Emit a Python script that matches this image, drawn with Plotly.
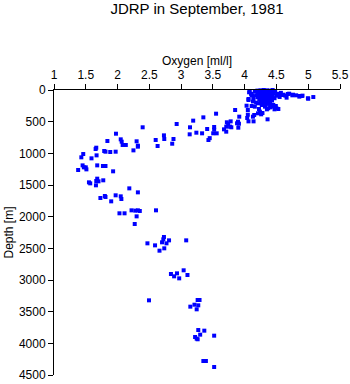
import plotly.graph_objects as go

# Oxygen [ml/l] values and matching depths [m]
oxygen = [
    # deep / intermediate
    2.395, 2.93, 1.975, 1.84, 2.05, 2.065, 2.13, 2.08, 2.30, 2.32, 2.32, 2.25, 2.60, 2.63,
    2.73, 2.735, 2.88, 2.86, 1.665, 1.655, 1.79, 1.81, 1.885, 1.97, 1.46, 1.43, 1.59, 1.67,
    1.45, 1.47, 1.50, 1.51, 1.38, 1.68, 1.77, 1.81, 1.93, 1.55, 1.57, 1.68, 1.665, 1.70,
    1.66, 1.775, 2.185, 2.32, 1.73, 1.80, 1.81, 1.97, 1.90, 2.05, 2.06, 2.22, 2.28, 2.32,
    2.35, 2.605, 2.03, 2.11, 2.30, 2.27,
    2.47, 2.59, 2.66, 2.73, 2.72, 2.70, 2.77, 2.81, 2.735, 3.08, 2.84, 2.89, 2.935, 2.97,
    3.04, 3.10, 2.495, 3.26, 3.29, 3.21, 3.27, 3.145, 3.245, 3.27, 3.365, 3.30, 3.52, 3.22,
    3.245, 3.26, 3.35, 3.39, 3.52,
    # upper transition
    3.14, 3.135, 3.24, 3.33, 3.35, 3.55, 3.19, 3.41, 3.45, 3.43, 3.52, 3.52, 3.505, 3.56,
    3.675, 3.71, 3.72, 3.78, 3.79, 3.895, 3.91, 3.90, 3.915, 3.85, 3.74, 3.71, 3.77, 3.88,
    4.03, 4.05, 4.05, 4.04, 4.06, 4.13, 4.15, 4.14, 4.36, 4.26, 4.28, 4.225, 4.35, 4.45,
    4.49, 4.53, 4.06, 4.11, 4.08, 4.21, 4.24, 4.11, 4.16, 4.27, 4.32, 4.37, 4.42, 4.48,
    4.50, 4.21, 4.40, 4.47,
    # surface spread to the right
    4.64, 4.66, 4.75, 4.81, 4.87, 4.91, 5.00, 5.08, 4.68, 4.61, 4.59, 4.54, 4.70, 4.76,
    4.86, 4.90, 4.995,
    # dense surface cluster
    4.20, 4.25, 4.30, 4.35, 4.40, 4.44, 4.22, 4.27, 4.33, 4.38, 4.43, 4.48, 4.20, 4.26,
    4.31, 4.36, 4.41, 4.46, 4.18, 4.24, 4.29, 4.34, 4.39, 4.44, 4.50, 4.21, 4.27, 4.32,
    4.37, 4.42, 4.47, 4.23, 4.28, 4.33, 4.38, 4.43, 4.25, 4.30, 4.35, 4.40, 4.27, 4.32,
    4.38, 4.45, 4.16, 4.14, 4.10, 4.18, 4.13, 4.52, 4.55, 4.57, 4.12, 4.07, 4.14, 4.06,
]
depth = [
    589, 537, 690, 805, 779, 816, 868, 868, 810, 879, 895, 953, 789, 884,
    716, 774, 774, 848, 911, 932, 963, 974, 979, 974, 1011, 1063, 1079, 1032,
    1190, 1221, 1221, 1253, 1263, 1190, 1200, 1200, 1284, 1458, 1474, 1400, 1437, 1442,
    1505, 1426, 1553, 1616, 1705, 1674, 1689, 1663, 1758, 1679, 1721, 1900, 1905, 1900,
    1910, 1900, 1947, 1947, 1995, 2116,
    2421, 2453, 2537, 2321, 2358, 2405, 2421, 2374, 2500, 2374, 2905, 2942, 2895, 2974,
    2847, 2921, 3321, 3316, 3316, 3390, 3400, 3421, 3463, 3790, 3800, 3863, 3879, 3900,
    3926, 3936, 4279, 4279, 4374,
    589, 700, 674, 684, 432, 374, 484, 616, 760, 790, 584, 626, 684, 684,
    621, 658, 510, 495, 589, 500, 532, 595, 421, 316, 537, 579, 579, 526,
    248, 316, 390, 442, 495, 421, 395, 495, 463, 384, 363, 300, 305, 263,
    253, 300, 158, 84, 32, 368, 342, 253, 263, 237, 263, 289, 237, 263,
    289, 210, 274, 305,
    89, 121, 84, 84, 95, 89, 137, 111, 63, 74, 79, 63, 58, 74,
    105, 95, 131,
    10, 5, 0, 5, 10, 0, 30, 25, 30, 20, 35, 25, 55, 60,
    50, 55, 60, 50, 85, 80, 90, 85, 95, 80, 90, 115, 120, 110,
    125, 115, 130, 150, 160, 145, 155, 165, 190, 185, 200, 195, 225, 230,
    220, 235, 20, 110, 60, 200, 180, 60, 110, 45, 84, 36, 153, 142,
]

x_ticks = [1, 1.5, 2, 2.5, 3, 3.5, 4, 4.5, 5, 5.5]
y_ticks = [0, 500, 1000, 1500, 2000, 2500, 3000, 3500, 4000, 4500]

FONT = "Liberation Sans, Arial, sans-serif"

fig = go.Figure(go.Scatter(
    x=oxygen, y=depth, mode="markers",
    marker=dict(symbol="square", size=4, color="#0000ff", line=dict(width=0)),
    cliponaxis=False, hoverinfo="x+y",
))

fig.update_layout(
    width=350, height=384,
    margin=dict(l=54, r=10, t=90, b=9),
    paper_bgcolor="white", plot_bgcolor="white",
    showlegend=False,
    font=dict(family=FONT, size=12, color="black"),
    title=dict(text="JDRP in September, 1981", x=0.5, xref="paper", xanchor="center",
               y=1 - 9 / 384, yref="container", yanchor="middle",
               font=dict(family=FONT, size=15, color="black")),
    xaxis=dict(side="top", range=[1, 5.5], tickvals=x_ticks,
               ticktext=[f"{v:g}" for v in x_ticks],
               ticks="outside", ticklen=5, tickcolor="black", tickwidth=1,
               showline=True, linecolor="black", linewidth=1,
               showgrid=False, zeroline=False, automargin=False,
               tickfont=dict(family=FONT, size=12, color="black")),
    yaxis=dict(range=[4500, 0], tickvals=y_ticks,
               ticktext=[str(v) for v in y_ticks],
               ticks="outside", ticklen=5, tickcolor="black", tickwidth=1,
               showline=True, linecolor="black", linewidth=1,
               showgrid=False, zeroline=False, automargin=False,
               tickfont=dict(family=FONT, size=12, color="black")),
    annotations=[
        dict(text="Oxygen [ml/l]", xref="paper", yref="paper", x=0.5, y=1 + 29 / 285,
             xanchor="center", yanchor="middle", showarrow=False,
             font=dict(family=FONT, size=12, color="black")),
        dict(text="Depth [m]", xref="paper", yref="paper", x=(8 - 54) / 286, y=0.5,
             xanchor="center", yanchor="middle", textangle=-90, showarrow=False,
             font=dict(family=FONT, size=12, color="black")),
    ],
)

fig.write_html("out.html")
